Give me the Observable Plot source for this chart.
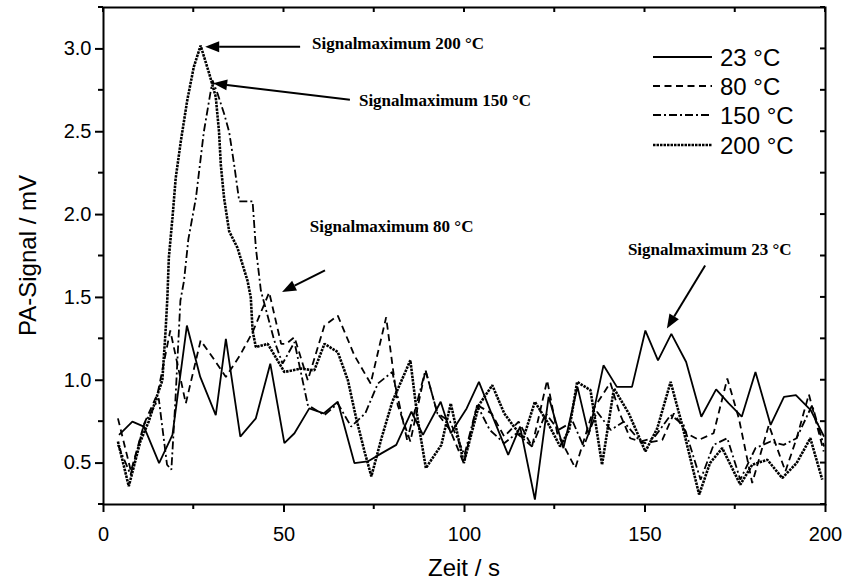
<!DOCTYPE html>
<html><head><meta charset="utf-8">
<script src="https://cdn.jsdelivr.net/npm/d3@7"></script>
<script src="https://cdn.jsdelivr.net/npm/@observablehq/plot@0.6"></script>
<style>
html,body{margin:0;padding:0;background:#fff;}
#chart{width:842px;height:582px;}
</style></head>
<body><div id="chart"></div>
<script>
// ---- data (Zeit / s, PA-Signal / mV) ----
const t23 = [4.3,8.0,11.2,15.4,19.1,23.1,26.8,31.1,33.9,37.9,42.2,46.2,50.1,52.9,57.0,61.0,64.9,69.5,73.2,77.1,81.1,85.3,88.5,93.4,96.2,100.6,104.0,108.0,112.1,115.4,119.5,123.3,127.4,131.3,134.4,138.5,142.2,146.4,150.1,153.6,157.3,161.4,165.6,169.7,173.2,176.8,180.6,184.8,188.5,191.8,195.9,199.6];
const v23 = [0.67,0.75,0.72,0.50,0.67,1.33,1.02,0.79,1.25,0.66,0.77,1.10,0.62,0.68,0.83,0.80,0.87,0.50,0.51,0.56,0.61,0.81,0.67,0.87,0.68,0.83,0.99,0.77,0.55,0.72,0.28,0.90,0.59,0.96,0.67,1.09,0.96,0.96,1.30,1.12,1.28,1.11,0.78,0.945,0.86,0.78,1.05,0.73,0.90,0.91,0.82,0.66];

const t80 = [4.0,7.6,11.3,15.0,18.5,22.8,26.9,30.5,33.9,37.8,41.3,45.9,49.2,50.6,52.9,56.6,61.2,64.9,69.5,74.0,78.3,81.5,85.0,89.2,92.5,96.0,99.8,103.5,107.5,111.0,115.0,118.7,122.9,125.7,130.7,135.8,140.4,143.0,145.9,150.0,154.8,158.0,161.5,164.9,169.0,172.8,176.0,179.7,184.3,188.9,192.0,195.4,199.5];
const v80 = [0.77,0.45,0.74,0.92,1.30,0.86,1.24,1.13,1.02,1.15,1.29,1.53,1.22,1.22,1.26,1.00,1.33,1.39,1.15,0.98,1.38,0.85,0.63,1.06,0.80,0.70,0.50,0.85,0.80,0.66,0.75,0.60,1.00,0.68,0.47,0.83,0.985,0.80,0.65,0.62,0.64,0.80,0.68,0.64,0.68,1.01,0.77,0.38,0.73,0.45,0.65,0.915,0.57];

const t150 = [4.0,7.5,11.2,15.3,17.6,18.8,19.9,21.3,22.3,23.5,25.6,27.8,30.2,31.6,33.4,34.8,36.2,37.6,41.3,42.2,43.6,47.3,49.6,52.9,56.6,61.2,64.9,68.6,72.5,76.0,80.0,84.1,89.2,92.5,96.0,100.0,103.5,107.0,111.0,114.5,118.7,122.5,126.0,130.0,133.0,136.7,140.5,144.1,148.7,152.4,157.1,160.7,165.4,169.0,172.8,176.4,180.6,184.8,188.4,192.0,196.3,199.6];
const v150 = [0.61,0.43,0.73,0.89,0.49,0.46,0.87,1.48,1.60,1.85,2.10,2.50,2.81,2.73,2.61,2.50,2.30,2.08,2.08,1.80,1.54,1.24,1.10,1.23,0.85,0.79,0.86,0.72,0.80,0.98,1.05,0.64,1.06,0.80,0.75,0.55,0.85,0.70,0.62,0.68,0.60,0.80,0.70,0.75,0.60,0.81,0.70,0.75,0.63,0.65,0.79,0.73,0.40,0.61,0.65,0.40,0.59,0.63,0.61,0.65,0.85,0.60];

const t200 = [4.0,7.0,10.2,12.5,14.9,16.3,17.2,17.7,18.1,19.1,20.0,21.4,23.2,25.0,26.9,29.3,31.1,32.0,32.5,33.4,34.8,37.1,38.5,39.9,40.8,41.3,42.2,45.5,50.1,54.7,58.4,61.2,64.9,67.7,70.0,72.3,74.2,77.0,80.0,85.0,87.0,89.3,93.6,96.2,99.8,104.0,107.7,111.0,113.7,116.3,119.5,122.9,126.5,129.0,131.2,134.9,138.1,141.4,145.5,150.1,153.4,157.1,160.3,165.0,168.0,171.4,176.4,179.7,183.9,188.0,192.0,195.8,199.1];
const v200 = [0.63,0.36,0.63,0.75,0.91,1.00,1.30,1.50,1.74,1.98,2.22,2.44,2.69,2.89,3.02,2.85,2.71,2.50,2.30,2.10,1.90,1.80,1.70,1.60,1.50,1.30,1.20,1.22,1.05,1.07,1.06,1.22,1.17,1.00,0.77,0.57,0.42,0.65,0.87,1.12,0.77,0.47,0.61,0.86,0.50,0.85,0.97,0.80,0.72,0.65,0.87,0.75,0.60,0.70,0.99,0.94,0.49,0.95,0.80,0.57,0.71,0.99,0.73,0.31,0.50,0.59,0.37,0.49,0.52,0.41,0.50,0.65,0.40];

const seriesNames = ["23 °C","80 °C","150 °C","200 °C"];
const xTicks = [0,50,100,150,200];
const xMinor = [25,75,125,175];
const yTicks = [0.5,1.0,1.5,2.0,2.5,3.0];
const yMinor = [0.25,0.75,1.25,1.75,2.25,2.75,3.25];

// annotations: text, arrow tip (data), arrow tail (data), label anchor (data)
const annText = ["Signalmaximum 200 °C","Signalmaximum 150 °C","Signalmaximum 80 °C","Signalmaximum 23 °C"];
const annTip  = [[28.3,3.01],[30.5,2.79],[49.6,1.53],[156.2,1.31]];
const annTail = [[54.6,3.01],[68.4,2.69],[61.5,1.66],[166.8,1.69]];
const annPos  = [[57.9,3.03],[70.9,2.69],[57.3,1.93],[145.4,1.79]];

const styles = [
  {dash: null, w: 1.8},
  {dash: "7,4.5", w: 1.8},
  {dash: "8,3,2,3", w: 1.8},
  {dash: "2.5,1", w: 2.6}
];

const toRows = (ts, vs, name) => ts.map((t, i) => ({t, v: vs[i], s: name}));
const all = [toRows(t23, v23, seriesNames[0]), toRows(t80, v80, seriesNames[1]),
             toRows(t150, v150, seriesNames[2]), toRows(t200, v200, seriesNames[3])];

const plot = Plot.plot({
  width: 842, height: 582,
  marginLeft: 103, marginRight: 17, marginTop: 7, marginBottom: 78,
  style: {fontFamily: "'Liberation Sans', Arial, sans-serif", fontSize: "20px", color: "#000", background: "#fff", overflow: "visible"},
  x: {domain: [0, 200], ticks: xTicks, tickSize: 8, tickPadding: 14, label: null},
  y: {domain: [0.25, 3.25], ticks: yTicks, tickSize: 8, tickPadding: 4, tickFormat: d3.format(".1f"), label: null},
  marks: [
    ...all.map((d, i) => Plot.line(d, {x: "t", y: "v", stroke: "#000", strokeWidth: styles[i].w, strokeDasharray: styles[i].dash, strokeLinejoin: "miter", strokeLinecap: "butt"})),
    Plot.frame({stroke: "#000", strokeWidth: 2})
  ]
});
document.getElementById("chart").appendChild(plot);

const svg = d3.select(plot);
const X = v => plot.scale("x").apply(v);
const Y = v => plot.scale("y").apply(v);
svg.selectAll("[aria-label='x-axis tick'] path, [aria-label='y-axis tick'] path").attr("stroke-width", 2);

const g = svg.append("g").attr("stroke", "#000").attr("stroke-width", 2);
const x0 = X(0), x1 = X(200), y0 = Y(0.25), y1 = Y(3.25);
// minor outward ticks + mirrored inward ticks
xMinor.forEach(v => g.append("line").attr("x1", X(v)).attr("x2", X(v)).attr("y1", y0).attr("y2", y0 + 5));
xTicks.concat(xMinor).forEach(v => g.append("line").attr("x1", X(v)).attr("x2", X(v)).attr("y1", y1).attr("y2", y1 + 5));
yMinor.forEach(v => g.append("line").attr("y1", Y(v)).attr("y2", Y(v)).attr("x1", x0).attr("x2", x0 - 5));
yTicks.concat(yMinor).forEach(v => g.append("line").attr("y1", Y(v)).attr("y2", Y(v)).attr("x1", x1).attr("x2", x1 - 5));

const sans = "'Liberation Sans', Arial, sans-serif";
// axis titles
svg.append("text").attr("x", (x0 + x1) / 2).attr("y", 576).attr("text-anchor", "middle")
  .style("font", `24px ${sans}`).text("Zeit / s");
svg.append("text").attr("transform", `translate(36,${(y0 + y1) / 2}) rotate(-90)`).attr("text-anchor", "middle")
  .style("font", `24px ${sans}`).text("PA-Signal / mV");

// legend
const legY = [57, 86, 115, 145];
seriesNames.forEach((name, i) => {
  svg.append("line").attr("x1", 653).attr("x2", 712).attr("y1", legY[i]).attr("y2", legY[i])
    .attr("stroke", "#000").attr("stroke-width", styles[i].w).attr("stroke-dasharray", styles[i].dash);
  svg.append("text").attr("x", 720).attr("y", legY[i]).attr("dy", "0.36em").attr("text-anchor", "start")
    .style("font", `24px ${sans}`).text(name);
});

// annotations with filled arrowheads
annText.forEach((txt, i) => {
  const [tx, ty] = [X(annTip[i][0]), Y(annTip[i][1])];
  const [sx, sy] = [X(annTail[i][0]), Y(annTail[i][1])];
  const ang = Math.atan2(ty - sy, tx - sx);
  const L = 14, W = 5.5;
  const bx = tx - L * Math.cos(ang), by = ty - L * Math.sin(ang);
  svg.append("line").attr("x1", sx).attr("y1", sy).attr("x2", bx).attr("y2", by).attr("stroke", "#000").attr("stroke-width", 2);
  const px = -Math.sin(ang) * W, py = Math.cos(ang) * W;
  svg.append("polygon").attr("points", `${tx},${ty} ${bx + px},${by + py} ${bx - px},${by - py}`).attr("fill", "#000");
  svg.append("text").attr("x", X(annPos[i][0])).attr("y", Y(annPos[i][1])).attr("dy", "0.35em").attr("text-anchor", "start")
    .style("font", "bold 17px 'Liberation Serif', 'Times New Roman', serif").text(txt);
});
</script>
</body></html>
